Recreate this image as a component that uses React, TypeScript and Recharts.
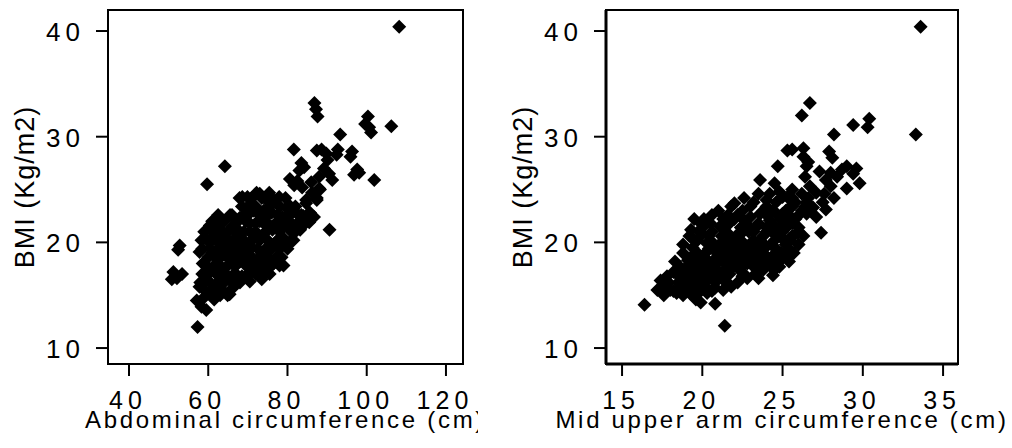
import { ScatterChart, Scatter, XAxis, YAxis, ReferenceArea } from "recharts";

// BMI vs abdominal circumference (cm)
const ABDOMINAL_POINTS: [number, number][] = [
  [108.2, 40.4],
  [86.8, 33.2], [87.2, 32.6], [87.6, 31.9],
  [100.3, 31.9], [99.6, 31.2], [101.1, 30.4], [100.6, 30.9],
  [106.2, 31.0], [93.3, 30.2], [92.7, 28.8], [92.4, 28.3], [81.6, 28.8],
  [87.4, 28.7], [88.6, 28.8], [89.8, 28.4], [90.1, 27.8],
  [96.3, 28.6], [95.9, 28.1], [97.6, 26.9], [96.8, 26.4], [98.1, 26.6],
  [101.9, 25.9], [64.2, 27.2], [59.7, 25.5], [90.6, 21.2],
  [52.8, 19.7], [52.4, 19.3], [51.2, 17.2], [53.4, 17.0], [50.8, 16.5], [52.1, 16.6],
  [57.3, 12.0], [65.4, 15.1], [66.0, 15.6], [64.9, 15.0], [77.8, 18.0],
  [83.5, 27.5], [83.0, 26.8], [84.2, 27.1],
  [80.6, 26.0], [81.7, 25.4], [83.7, 25.2], [82.5, 25.8],
  [89.2, 27.0], [88.0, 26.2], [91.3, 25.9], [90.5, 26.5],
  [86.0, 25.7], [86.2, 24.7], [84.7, 23.7], [85.5, 22.8], [86.7, 22.4], [87.4, 24.2], [88.0, 25.1],
  [83.0, 21.8], [85.5, 21.9], [84.0, 22.5], [82.2, 22.8], [83.7, 21.5], [84.7, 24.0],
  [72.2, 24.7], [74.7, 24.0], [77.2, 23.7], [79.7, 23.3], [81.2, 22.8], [78.7, 22.4],
  [68.6, 24.3], [69.6, 22.8], [75.4, 24.7], [77.9, 24.3], [73.0, 24.6], [67.9, 24.2],
  [69.9, 24.3], [67.9, 22.3],
  [58.6, 18.0], [57.8, 19.1], [59.8, 20.2], [60.4, 21.6], [58.3, 20.2], [59.6, 16.4],
  [60.4, 15.2], [57.8, 15.8], [57.1, 14.5], [58.3, 13.9], [59.0, 14.8], [58.5, 17.0],
  [61.0, 19.0], [61.5, 20.6], [61.0, 17.5], [62.0, 18.5], [62.9, 16.4], [62.1, 21.2],
  [62.0, 15.8], [63.0, 19.8], [63.5, 17.2], [63.8, 21.0], [64.6, 17.7], [64.0, 18.8],
  [64.5, 20.0], [65.0, 16.8], [65.5, 19.0], [66.0, 21.5], [66.0, 18.0], [66.5, 20.3],
  [67.0, 17.0], [67.2, 19.2], [68.0, 21.0], [68.0, 18.2], [68.5, 16.8], [69.0, 20.0],
  [69.6, 16.7], [69.5, 22.0], [70.0, 18.5], [70.5, 21.0], [71.0, 19.5], [71.0, 17.5],
  [71.5, 23.0], [72.0, 20.5], [72.0, 18.0], [72.9, 17.1], [73.0, 22.0], [73.5, 19.0],
  [74.0, 20.8], [74.0, 23.0], [74.5, 17.5], [75.0, 21.8], [75.5, 19.5], [76.0, 22.8],
  [76.2, 21.2], [76.5, 18.0], [77.0, 20.0], [77.2, 18.6], [78.0, 22.0], [78.7, 20.5],
  [79.7, 19.6], [79.0, 17.8], [80.0, 21.5], [80.5, 20.0], [81.2, 20.9], [83.2, 21.2],
  [80.5, 23.5], [61.0, 22.0], [64.0, 22.0], [65.5, 22.6], [63.0, 15.0], [61.5, 14.6],
  [59.5, 13.6], [67.5, 16.2], [70.5, 16.3], [73.5, 16.5], [75.5, 17.0], [76.5, 23.8],
  [78.5, 21.5], [88.2, 25.0], [85.7, 22.8], [87.4, 24.0],
  [59.0, 15.5], [61.0, 15.5], [63.5, 15.5],
  [58.0, 16.2], [60.5, 16.2], [64.0, 16.2], [66.0, 16.2], [68.0, 16.2],
  [60.0, 17.0], [62.0, 17.0], [66.5, 17.0], [70.0, 17.0], [72.0, 17.0], [74.0, 17.0],
  [59.5, 17.8], [61.5, 17.8], [63.0, 17.8], [67.0, 17.8], [69.5, 17.8], [71.5, 17.8],
  [74.0, 17.8], [76.0, 17.8], [78.0, 17.8],
  [60.0, 18.6], [63.0, 18.6], [65.0, 18.6], [66.5, 18.6], [69.0, 18.6], [71.0, 18.6],
  [73.0, 18.6], [75.0, 18.6], [78.5, 18.6],
  [58.5, 19.4], [60.5, 19.4], [62.5, 19.4], [64.0, 19.4], [66.0, 19.4], [68.0, 19.4],
  [70.0, 19.4], [72.5, 19.4], [74.5, 19.4], [76.0, 19.4], [78.0, 19.4], [80.0, 19.4],
  [61.0, 20.2], [63.0, 20.2], [65.0, 20.2], [67.0, 20.2], [69.0, 20.2], [71.0, 20.2],
  [73.0, 20.2], [75.0, 20.2], [77.5, 20.2], [79.0, 20.2], [81.5, 20.2],
  [59.0, 21.0], [61.0, 21.0], [65.0, 21.0], [67.0, 21.0], [69.0, 21.0], [72.0, 21.0],
  [74.5, 21.0], [78.0, 21.0], [82.0, 21.0],
  [63.0, 21.8], [67.0, 21.8], [70.5, 21.8], [72.0, 21.8], [74.0, 21.8], [77.0, 21.8],
  [79.0, 21.8], [81.0, 21.8], [82.5, 21.8],
  [62.5, 22.6], [66.0, 22.6], [70.0, 22.6], [73.0, 22.6], [75.0, 22.6], [77.5, 22.6],
  [80.0, 22.6], [83.5, 22.6],
  [68.5, 23.4], [70.0, 23.4], [72.0, 23.4], [75.5, 23.4], [78.0, 23.4], [82.0, 23.4],
  [71.0, 24.2], [73.5, 24.2], [76.0, 24.2], [79.5, 24.2],
];

// BMI vs mid upper arm circumference (cm)
const ARM_POINTS: [number, number][] = [
  [33.6, 40.4], [33.3, 30.2],
  [26.7, 33.2], [26.2, 32.0],
  [29.4, 31.1], [30.4, 31.7], [30.3, 30.9], [28.2, 30.2],
  [25.3, 28.7], [26.3, 28.9], [25.6, 28.8], [27.9, 28.6], [28.1, 28.0],
  [24.7, 27.2], [29.0, 27.2], [29.6, 27.0], [29.4, 26.5], [28.7, 26.9], [29.8, 25.6],
  [23.6, 25.9], [24.5, 25.6], [22.0, 23.7], [27.4, 20.9],
  [27.7, 23.1], [28.2, 24.2], [29.0, 25.1],
  [16.4, 14.1], [21.4, 12.1], [20.8, 14.2], [19.9, 14.3], [19.6, 14.6],
  [24.4, 16.9], [21.3, 15.5],
  [26.3, 28.1], [26.5, 27.2], [26.4, 26.2], [26.7, 25.3], [27.1, 24.7], [26.9, 23.3],
  [26.5, 22.7], [25.7, 23.7], [25.3, 24.3], [25.0, 22.7],
  [27.3, 26.7], [27.7, 25.9], [28.4, 26.2], [28.0, 25.3], [28.0, 26.6], [26.6, 27.6],
  [17.2, 15.5], [17.4, 16.4], [17.8, 16.8], [18.2, 17.2], [18.4, 15.2], [18.0, 15.5],
  [18.8, 19.0], [18.6, 17.7], [19.1, 18.3], [19.3, 21.2], [19.7, 20.2], [20.3, 19.9],
  [19.9, 18.0], [19.9, 16.1], [19.2, 15.2], [20.3, 15.2], [20.8, 15.7], [21.1, 17.1],
  [20.5, 21.8], [21.1, 21.5], [21.7, 21.8], [21.7, 20.6],
  [20.7, 18.3], [21.5, 19.0], [21.9, 17.7], [22.3, 18.3], [22.8, 19.6], [23.2, 20.2],
  [23.4, 21.5], [23.0, 22.4], [22.6, 22.1], [23.6, 22.7], [24.0, 24.0], [23.8, 23.0],
  [24.2, 22.1], [24.4, 20.9], [24.0, 19.6], [23.6, 18.6], [23.2, 17.7], [22.8, 18.0],
  [24.2, 18.0], [24.6, 19.0], [25.1, 20.2], [25.3, 21.5], [25.5, 23.4], [25.9, 20.9],
  [25.7, 19.0], [25.3, 18.6], [24.8, 17.7], [26.1, 22.7], [26.5, 23.8], [27.1, 22.4],
  [18.5, 16.2], [19.0, 17.0], [20.2, 17.2], [21.0, 18.7], [22.0, 19.8], [22.4, 20.8],
  [21.5, 16.3], [22.5, 16.8], [23.0, 23.4], [24.8, 24.8], [25.6, 25.0], [20.0, 20.8],
  [19.4, 19.5], [18.3, 18.2], [21.2, 20.0], [22.9, 21.0], [24.5, 22.9], [23.5, 19.2],
  [25.0, 24.3],
  [17.6, 15.0], [18.8, 15.0], [19.5, 15.0],
  [17.5, 15.8], [18.6, 15.8], [19.4, 15.8], [20.2, 15.8], [21.8, 15.8],
  [18.9, 16.6], [19.6, 16.6], [20.4, 16.6], [21.2, 16.6], [22.8, 16.6], [23.5, 16.6],
  [18.7, 17.4], [19.5, 17.4], [20.3, 17.4], [21.4, 17.4], [22.3, 17.4], [23.8, 17.4], [24.5, 17.4],
  [19.6, 18.2], [20.4, 18.2], [21.3, 18.2], [22.0, 18.2], [23.0, 18.2], [23.9, 18.2],
  [24.8, 18.2], [25.4, 18.2],
  [19.7, 19.0], [20.2, 19.0], [20.9, 19.0], [22.1, 19.0], [22.9, 19.0], [23.8, 19.0], [24.9, 19.0],
  [18.8, 19.8], [20.7, 19.8], [21.4, 19.8], [22.3, 19.8], [23.2, 19.8], [24.3, 19.8],
  [25.2, 19.8], [26.0, 19.8],
  [19.2, 20.6], [20.4, 20.6], [21.2, 20.6], [22.1, 20.6], [23.8, 20.6], [24.8, 20.6],
  [25.6, 20.6], [26.3, 20.6],
  [20.0, 21.4], [22.4, 21.4], [22.9, 21.4], [24.0, 21.4], [24.6, 21.4], [26.0, 21.4],
  [19.5, 22.2], [20.1, 22.2], [21.3, 22.2], [22.0, 22.2], [24.9, 22.2], [25.8, 22.2],
  [21.0, 23.0], [22.5, 23.0], [24.4, 23.0], [25.2, 23.0], [26.2, 23.0],
  [23.2, 23.8], [24.6, 23.8], [25.8, 23.8], [27.5, 23.8],
  [23.5, 24.6], [24.2, 24.6], [26.2, 24.6], [27.6, 24.6],
  [18.2, 15.4], [19.0, 15.4], [19.9, 15.4], [20.6, 15.4],
  [17.9, 16.2], [19.1, 16.2], [20.0, 16.2], [20.8, 16.2], [22.2, 16.2],
  [18.4, 17.0], [19.2, 17.0], [20.0, 17.0], [20.8, 17.0], [21.7, 17.0], [22.6, 17.0], [23.3, 17.0],
  [19.1, 17.8], [19.9, 17.8], [20.8, 17.8], [21.6, 17.8], [22.5, 17.8], [23.5, 17.8], [24.2, 17.8],
  [19.3, 18.6], [20.1, 18.6], [21.7, 18.6], [22.5, 18.6], [23.3, 18.6], [24.3, 18.6], [25.0, 18.6],
  [20.4, 19.4], [21.1, 19.4], [21.8, 19.4], [22.6, 19.4], [23.4, 19.4], [24.6, 19.4], [25.4, 19.4],
  [19.5, 20.2], [20.5, 20.2], [21.6, 20.2], [22.4, 20.2], [23.6, 20.2], [24.5, 20.2], [25.5, 20.2],
  [19.8, 21.0], [20.6, 21.0], [21.5, 21.0], [23.2, 21.0], [24.0, 21.0], [25.0, 21.0], [26.0, 21.0],
  [19.9, 21.8], [22.7, 21.8], [23.5, 21.8], [24.3, 21.8], [25.1, 21.8], [25.6, 21.8],
  [20.6, 22.6], [21.6, 22.6], [22.2, 22.6], [24.0, 22.6], [24.7, 22.6], [25.4, 22.6],
  [21.8, 23.4], [24.0, 23.4], [25.6, 23.4], [26.4, 23.4],
  [22.6, 24.2], [25.6, 24.2], [26.6, 24.2],
];

const ABD_TICKS = [40, 60, 80, 100, 120];
const ARM_TICKS = [15, 20, 25, 30, 35];
const BMI_TICKS = [10, 20, 30, 40];

const ABD_DOMAIN: [number, number] = [34.7, 124.3];
const ARM_DOMAIN: [number, number] = [14.0, 35.93];
const BMI_DOMAIN: [number, number] = [8.49, 41.99];

const FONT = "'Liberation Sans', Arial, sans-serif";

const toRows = (pts: [number, number][]) => pts.map(([x, y]) => ({ x, y }));

function Diamond(props: any) {
  const { cx, cy } = props;
  const r = 7;
  return (
    <path
      d={`M${cx},${cy - r}L${cx + r},${cy}L${cx},${cy + r}L${cx - r},${cy}Z`}
      fill="#000"
    />
  );
}

function XTick(props: any) {
  const { x, y, payload } = props;
  return (
    <text x={x - 1} y={y + 33} textAnchor="middle" fontSize={25} fontFamily={FONT} letterSpacing={5} fill="#000">
      {payload.value}
    </text>
  );
}

function YTick(props: any) {
  const { x, y, payload } = props;
  return (
    <text x={x - 11} y={y + 10} textAnchor="end" fontSize={26} fontFamily={FONT} letterSpacing={5} fill="#000">
      {payload.value}
    </text>
  );
}

function Panel({
  points,
  xDomain,
  xTicks,
  xTitle,
  yAxisWidth,
  width,
  marginRight,
  axisStroke,
  yLabelX,
}: {
  points: [number, number][];
  xDomain: [number, number];
  xTicks: number[];
  xTitle: string;
  yAxisWidth: number;
  width: number;
  marginRight: number;
  axisStroke: number;
  yLabelX: number;
}) {
  return (
    <ScatterChart
      width={width}
      height={448}
      margin={{ top: 10, right: marginRight, bottom: 0, left: 0 }}
    >
      <XAxis
        type="number"
        dataKey="x"
        domain={xDomain}
        ticks={xTicks}
        allowDataOverflow
        height={84}
        tickSize={12}
        tickMargin={0}
        tickLine={{ stroke: "#000", strokeWidth: 2 }}
        axisLine={{ stroke: "#000", strokeWidth: axisStroke }}
        tick={<XTick />}
        label={(p: any) => {
          const vb = p.viewBox;
          return (
            <text
              x={vb.x + vb.width / 2}
              y={vb.y + 64}
              textAnchor="middle"
              fontSize={24}
              fontFamily={FONT}
              letterSpacing={2.7}
              fill="#000"
            >
              {xTitle}
            </text>
          );
        }}
      />
      <YAxis
        type="number"
        dataKey="y"
        domain={BMI_DOMAIN}
        ticks={BMI_TICKS}
        allowDataOverflow
        width={yAxisWidth}
        tickSize={12}
        tickMargin={0}
        tickLine={{ stroke: "#000", strokeWidth: 2 }}
        axisLine={{ stroke: "#000", strokeWidth: axisStroke }}
        tick={<YTick />}
        label={(p: any) => {
          const vb = p.viewBox;
          const cx = vb.x + yLabelX;
          const cy = vb.y + vb.height / 2;
          return (
            <text
              x={cx}
              y={cy}
              transform={`rotate(-90, ${cx}, ${cy})`}
              textAnchor="middle"
              fontSize={27}
              fontFamily={FONT}
              letterSpacing={1}
              fill="#000"
            >
              BMI (Kg/m2)
            </text>
          );
        }}
      />
      <ReferenceArea
        x1={xDomain[0]}
        x2={xDomain[1]}
        y1={BMI_DOMAIN[0]}
        y2={BMI_DOMAIN[1]}
        fill="none"
        fillOpacity={0}
        stroke="#000"
        strokeWidth={2}
        ifOverflow="visible"
      />
      <Scatter data={toRows(points)} shape={<Diamond />} isAnimationActive={false} />
    </ScatterChart>
  );
}

export default function App() {
  return (
    <div style={{ position: "absolute", left: 0, top: 0, width: 1012, height: 448, background: "#fff" }}>
      <div style={{ position: "absolute", left: 0, top: 0, width: 478, height: 448, overflow: "hidden" }}>
        <Panel
          points={ABDOMINAL_POINTS}
          xDomain={ABD_DOMAIN}
          xTicks={ABD_TICKS}
          xTitle="Abdominal circumference (cm)"
          yAxisWidth={108}
          width={481}
          marginRight={18}
          axisStroke={2}
          yLabelX={34}
        />
      </div>
      <div style={{ position: "absolute", left: 490, top: 0, width: 522, height: 448 }}>
        <Panel
          points={ARM_POINTS}
          xDomain={ARM_DOMAIN}
          xTicks={ARM_TICKS}
          xTitle="Mid upper arm circumference (cm)"
          yAxisWidth={116}
          width={522}
          marginRight={54}
          axisStroke={3}
          yLabelX={42}
        />
      </div>
    </div>
  );
}
